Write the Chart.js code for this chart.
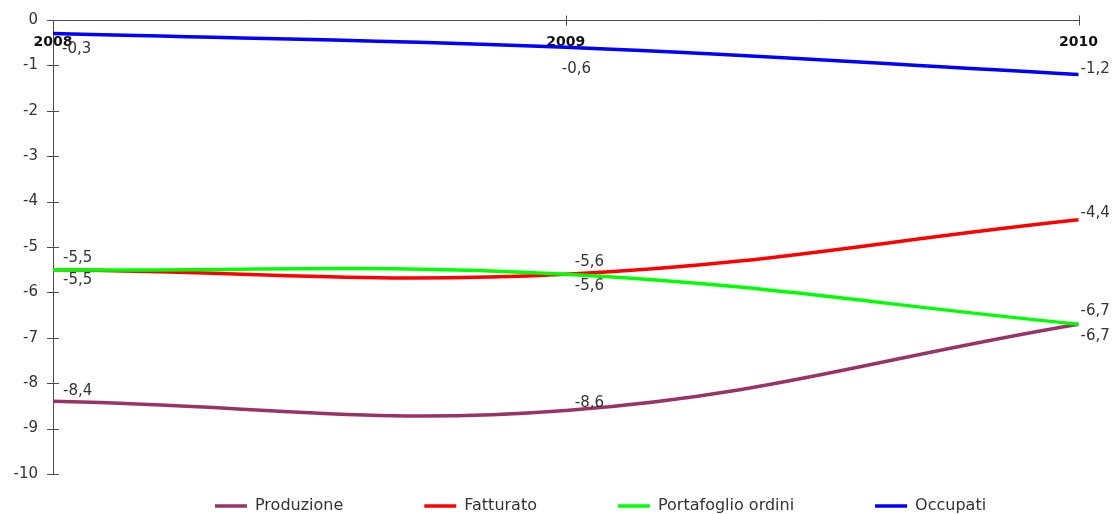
<!DOCTYPE html>
<html>
<head>
<meta charset="utf-8">
<script src="https://cdn.jsdelivr.net/npm/chart.js@4.4.1/dist/chart.umd.min.js"></script>
<style>
  html, body { margin: 0; padding: 0; background: #ffffff; }
  #wrap { width: 1112px; height: 514px; position: relative; }
</style>
</head>
<body>
<div id="wrap"><canvas id="chart"></canvas></div>
<script>
// Variazioni percentuali annue
const years = ['2008', '2009', '2010'];
const produzione = [-8.4, -8.6, -6.7];
const fatturato = [-5.5, -5.6, -4.4];
const portafoglioOrdini = [-5.5, -5.6, -6.7];
const occupati = [-0.3, -0.6, -1.2];
const seriesNames = ['Produzione', 'Fatturato', 'Portafoglio ordini', 'Occupati'];
const yMin = -10;
const yMax = 0;
const yStep = 1;

const fmt = v => v.toFixed(1).replace('.', ',');
const FONT = '"DejaVu Sans", sans-serif';

// Small crossing tick marks on both axes
const crossTicks = {
  id: 'crossTicks',
  beforeDatasetsDraw(chart, args, o) {
    const { ctx, scales: { x, y } } = chart;
    ctx.save();
    ctx.strokeStyle = o.color;
    ctx.lineWidth = 1;
    ctx.beginPath();
    y.ticks.forEach((t, i) => {
      const py = Math.round(y.getPixelForTick(i)) + 0.5;
      ctx.moveTo(y.right - o.yLen, py);
      ctx.lineTo(y.right + o.yLen, py);
    });
    const base = Math.round(y.getPixelForValue(0)) + 0.5;
    x.ticks.forEach((t, i) => {
      if (i === 0) return;
      const px = Math.round(x.getPixelForTick(i)) + 0.5;
      ctx.moveTo(px, base - o.xLen);
      ctx.lineTo(px, base + o.xLen);
    });
    ctx.stroke();
    ctx.restore();
  }
};

// Value labels next to each point
const valueLabels = {
  id: 'valueLabels',
  afterDatasetsDraw(chart, args, o) {
    const ctx = chart.ctx;
    ctx.save();
    ctx.font = o.font;
    ctx.fillStyle = o.color;
    ctx.textAlign = 'left';
    ctx.textBaseline = 'middle';
    chart.data.datasets.forEach((ds, di) => {
      const meta = chart.getDatasetMeta(di);
      meta.data.forEach((pt, i) => {
        const [dx, dy] = o.offsets[di][i];
        ctx.fillText(fmt(ds.data[i]), pt.x + dx, pt.y + dy);
      });
    });
    ctx.restore();
  }
};

// Places the legend row under the plot
const legendPlacement = {
  id: 'legendPlacement',
  afterLayout(chart, args, o) {
    const lg = chart.legend;
    if (!lg) return;
    const pad = lg.options.labels.padding;
    const w = lg.right - lg.left;
    lg.left = o.x - pad;
    lg.right = lg.left + w;
    lg.top = o.y - pad;
    lg.bottom = chart.height;
    lg.height = lg.bottom - lg.top;
  }
};

const mkSet = (label, data, color, order) => ({
  label, data,
  borderColor: color,
  backgroundColor: color,
  borderWidth: 3.5,
  pointRadius: 0,
  pointHoverRadius: 0,
  pointStyle: 'line',
  tension: 0.4,
  fill: false,
  order
});

new Chart(document.getElementById('chart'), {
  type: 'line',
  data: {
    labels: years,
    datasets: [
      mkSet(seriesNames[0], produzione, '#993366', 4),
      mkSet(seriesNames[1], fatturato, '#ff0000', 3),
      mkSet(seriesNames[2], portafoglioOrdini, '#00ff00', 2),
      mkSet(seriesNames[3], occupati, '#0000ff', 1)
    ]
  },
  plugins: [crossTicks, valueLabels, legendPlacement],
  options: {
    responsive: true,
    maintainAspectRatio: false,
    animation: false,
    events: [],
    layout: { padding: { top: 20, right: 31, bottom: 0, left: 0 } },
    scales: {
      x: {
        type: 'category',
        position: { y: 0 },
        offset: false,
        grid: { display: true, drawOnChartArea: false, drawTicks: false },
        border: { display: true, color: '#4d4d4d', width: 1 },
        ticks: {
          padding: 14,
          color: '#111111',
          font: { family: FONT, size: 14, weight: 'bold' },
          maxRotation: 0
        }
      },
      y: {
        min: yMin,
        max: yMax,
        afterFit(scale) {
          scale.width = 53;
          scale.paddingTop = 9;
          scale.paddingBottom = 9;
        },
        grid: { display: true, drawOnChartArea: false, drawTicks: false },
        border: { display: true, color: '#4d4d4d', width: 1 },
        ticks: {
          stepSize: yStep,
          padding: 15,
          color: '#333333',
          font: { family: FONT, size: 15 }
        }
      }
    },
    plugins: {
      tooltip: { enabled: false },
      legend: {
        position: 'bottom',
        align: 'start',
        maxHeight: 40,
        labels: {
          usePointStyle: true,
          pointStyleWidth: 32,
          padding: 81,
          color: '#333333',
          font: { family: FONT, size: 16 },
          sort: (a, b) => a.datasetIndex - b.datasetIndex
        }
      },
      crossTicks: { color: '#4d4d4d', yLen: 6, xLen: 5 },
      valueLabels: {
        font: '15px ' + FONT,
        color: '#333333',
        offsets: [
          [[10, -10], [9, -7], [2, 12]],
          [[10, -12], [9, -12], [2, -7]],
          [[10, 10], [9, 12], [2, -13]],
          [[9, 15], [-4, 22], [2, -5]]
        ]
      },
      legendPlacement: { x: 215, y: 498 }
    }
  }
});
</script>
</body>
</html>
